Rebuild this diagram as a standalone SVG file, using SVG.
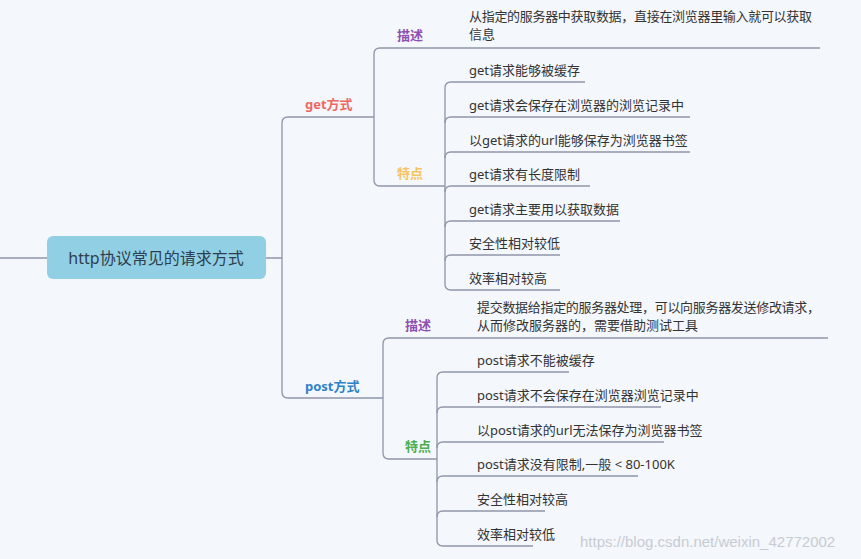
<svg xmlns="http://www.w3.org/2000/svg" width="861" height="559" viewBox="0 0 861 559">
<style>
text{font-family:"Noto Sans","Noto Sans CJK SC",sans-serif;font-size:13px;fill:#333}
.c{fill:none;stroke:#8e96a8;stroke-width:1.3}
.b{font-weight:bold}
</style>
<rect width="861" height="559" fill="#f4f7fc"/>
<g id="connectors">
<path class="c" d="M0 258H47M266 258H282"/>
<path class="c" d="M374 117H288Q282 117 282 123V392Q282 398 288 398H383"/>
<path class="c" d="M820 48H380Q374 48 374 54V180Q374 186 380 186H445"/>
<path class="c" d="M585 82H451Q445 82 445 88V284Q445 290 451 290H560"/>
<path class="c" d="M690 117H451Q445 117 445 123M690 152H451Q445 152 445 158M590 186H451Q445 186 445 192M620 221H451Q445 221 445 227M560 255H451Q445 255 445 261"/>
<path class="c" d="M828 338H389Q383 338 383 344V453Q383 459 389 459H437"/>
<path class="c" d="M569 372H443Q437 372 437 378V540Q437 546 443 546H533"/>
<path class="c" d="M661 407H443Q437 407 437 413M664 442H443Q437 442 437 448M638 476H443Q437 476 437 482M545 511H443Q437 511 437 517"/>
</g>
<g id="root"><rect x="47" y="236" width="219" height="43" rx="6" fill="#91cfe4"/><text x="156" y="264" text-anchor="middle" style="font-size:16px;fill:#2d3e50">http协议常见的请求方式</text></g>
<g id="get"><text class="b" x="305" y="109" style="fill:#ef6762">get方式</text></g>
<g id="get-desc"><text class="b" x="397" y="40" style="fill:#8e4fb0">描述</text>
<text x="469" y="21" textLength="343">从指定的服务器中获取数据，直接在浏览器里输入就可以获取</text><text x="469" y="39">信息</text></g>
<g id="get-feat"><text class="b" x="397" y="178" style="fill:#f6c560">特点</text>
<text x="469" y="75">get请求能够被缓存</text>
<text x="469" y="110">get请求会保存在浏览器的浏览记录中</text>
<text x="469" y="145">以get请求的url能够保存为浏览器书签</text>
<text x="469" y="179">get请求有长度限制</text>
<text x="469" y="214">get请求主要用以获取数据</text>
<text x="469" y="248">安全性相对较低</text>
<text x="469" y="283">效率相对较高</text></g>
<g id="post"><text class="b" x="305" y="391" style="fill:#2e83c6">post方式</text></g>
<g id="post-desc"><text class="b" x="405" y="330" style="fill:#8e4fb0">描述</text>
<text x="477" y="312" textLength="343">提交数据给指定的服务器处理，可以向服务器发送修改请求，</text><text x="477" y="330">从而修改服务器的，需要借助测试工具</text></g>
<g id="post-feat"><text class="b" x="405" y="451" style="fill:#4cae4c">特点</text>
<text x="477" y="365">post请求不能被缓存</text>
<text x="477" y="400">post请求不会保存在浏览器浏览记录中</text>
<text x="477" y="435">以post请求的url无法保存为浏览器书签</text>
<text x="477" y="469">post请求没有限制,一般 &lt; 80-100K</text>
<text x="477" y="504">安全性相对较高</text>
<text x="477" y="539">效率相对较低</text></g>
<text x="580" y="547" style="font-size:15px;fill:#c8ccd2;font-family:'Liberation Sans',sans-serif">https://blog.csdn.net/weixin_42772002</text>
</svg>
